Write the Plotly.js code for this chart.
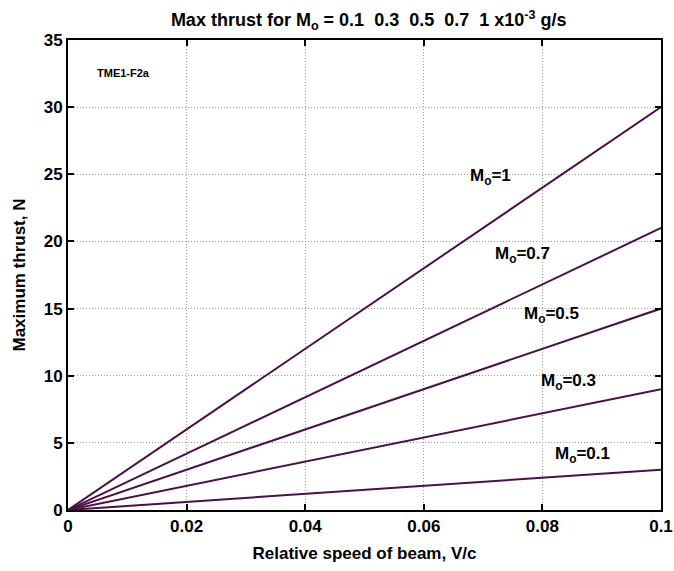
<!DOCTYPE html>
<html>
<head>
<meta charset="utf-8">
<script src="https://cdn.plot.ly/plotly-3.0.1.min.js"></script>
<style>html,body{margin:0;padding:0;background:#fff;}#chart{width:674px;height:571px;}</style>
</head>
<body>
<div id="chart"></div>
<script>
// Data: maximum thrust lines (N) vs relative beam speed V/c
const speed = [0, 0.1];
const massFlows = [0.1, 0.3, 0.5, 0.7, 1];
const thrustMo01 = [0, 3];
const thrustMo03 = [0, 9];
const thrustMo05 = [0, 15];
const thrustMo07 = [0, 21];
const thrustMo1 = [0, 30];
const seriesLabels = ['M<sub>o</sub>=0.1', 'M<sub>o</sub>=0.3', 'M<sub>o</sub>=0.5', 'M<sub>o</sub>=0.7', 'M<sub>o</sub>=1'];
const labelX = [0.0818, 0.0795, 0.0766, 0.0716, 0.0674];
const labelY = [4.1, 9.5, 14.5, 19.0, 24.8];
const xTicks = [0, 0.02, 0.04, 0.06, 0.08, 0.1];
const xTickText = ['0', '0.02', '0.04', '0.06', '0.08', '0.1'];
const yTicks = [0, 5, 10, 15, 20, 25, 30, 35];

const lineColor = '#4a1048';
const font = 'Liberation Sans, Arial, sans-serif';
const allThrust = [thrustMo01, thrustMo03, thrustMo05, thrustMo07, thrustMo1];

const traces = allThrust.map((t, i) => ({
  x: speed, y: t, type: 'scatter', mode: 'lines',
  line: {color: lineColor, width: 2}, hoverinfo: 'skip', name: seriesLabels[i], cliponaxis: false
}));

const annotations = seriesLabels.map((s, i) => ({
  x: labelX[i], y: labelY[i], xref: 'x', yref: 'y', text: '<b>' + s + '</b>',
  showarrow: false, xanchor: 'left', yanchor: 'middle',
  font: {family: font, size: 17, color: '#000'}
}));
annotations.push({
  x: 0.045, y: 0.93, xref: 'paper', yref: 'paper',
  text: '<b>TME1-F2a</b>', showarrow: false,
  font: {family: font, size: 11, color: '#000'}, xanchor: 'left', yanchor: 'middle'
});

const axisCommon = {
  showline: true, linecolor: '#000', linewidth: 2, mirror: 'ticks',
  ticks: 'inside', ticklen: 6, tickwidth: 2, tickcolor: '#000',
  showgrid: true, gridcolor: '#9a9a9a', griddash: '1px,2px', gridwidth: 1,
  zeroline: false, ticklabeloverflow: 'allow',
  tickfont: {family: font, size: 17, color: '#000', weight: 'bold'}
};

const sp = '\u00a0\u00a0';
const layout = {
  width: 674, height: 571,
  margin: {l: 68, r: 13, t: 40, b: 61},
  paper_bgcolor: '#fff', plot_bgcolor: '#fff',
  showlegend: false,
  title: {
    text: '<b>Max thrust for M<sub>o</sub> = 0.1' + sp + '0.3' + sp + '0.5' + sp + '0.7' + sp + '1 x10<sup>-3</sup> g/s</b>',
    font: {family: font, size: 18, color: '#000'}, x: 0.547, xanchor: 'center', y: 0.965, yanchor: 'middle'
  },
  xaxis: Object.assign({}, axisCommon, {
    range: [0, 0.1], tickvals: xTicks, ticktext: xTickText,
    title: {text: '<b>Relative speed of beam, V/c</b>', font: {family: font, size: 17, color: '#000'}, standoff: 12}
  }),
  yaxis: Object.assign({}, axisCommon, {
    range: [0, 35], tickvals: yTicks,
    title: {text: '<b>Maximum thrust, N</b>', font: {family: font, size: 17, color: '#000'}, standoff: 14}
  }),
  annotations: annotations
};

Plotly.newPlot('chart', traces, layout, {displayModeBar: false, staticPlot: true});
</script>
</body>
</html>
